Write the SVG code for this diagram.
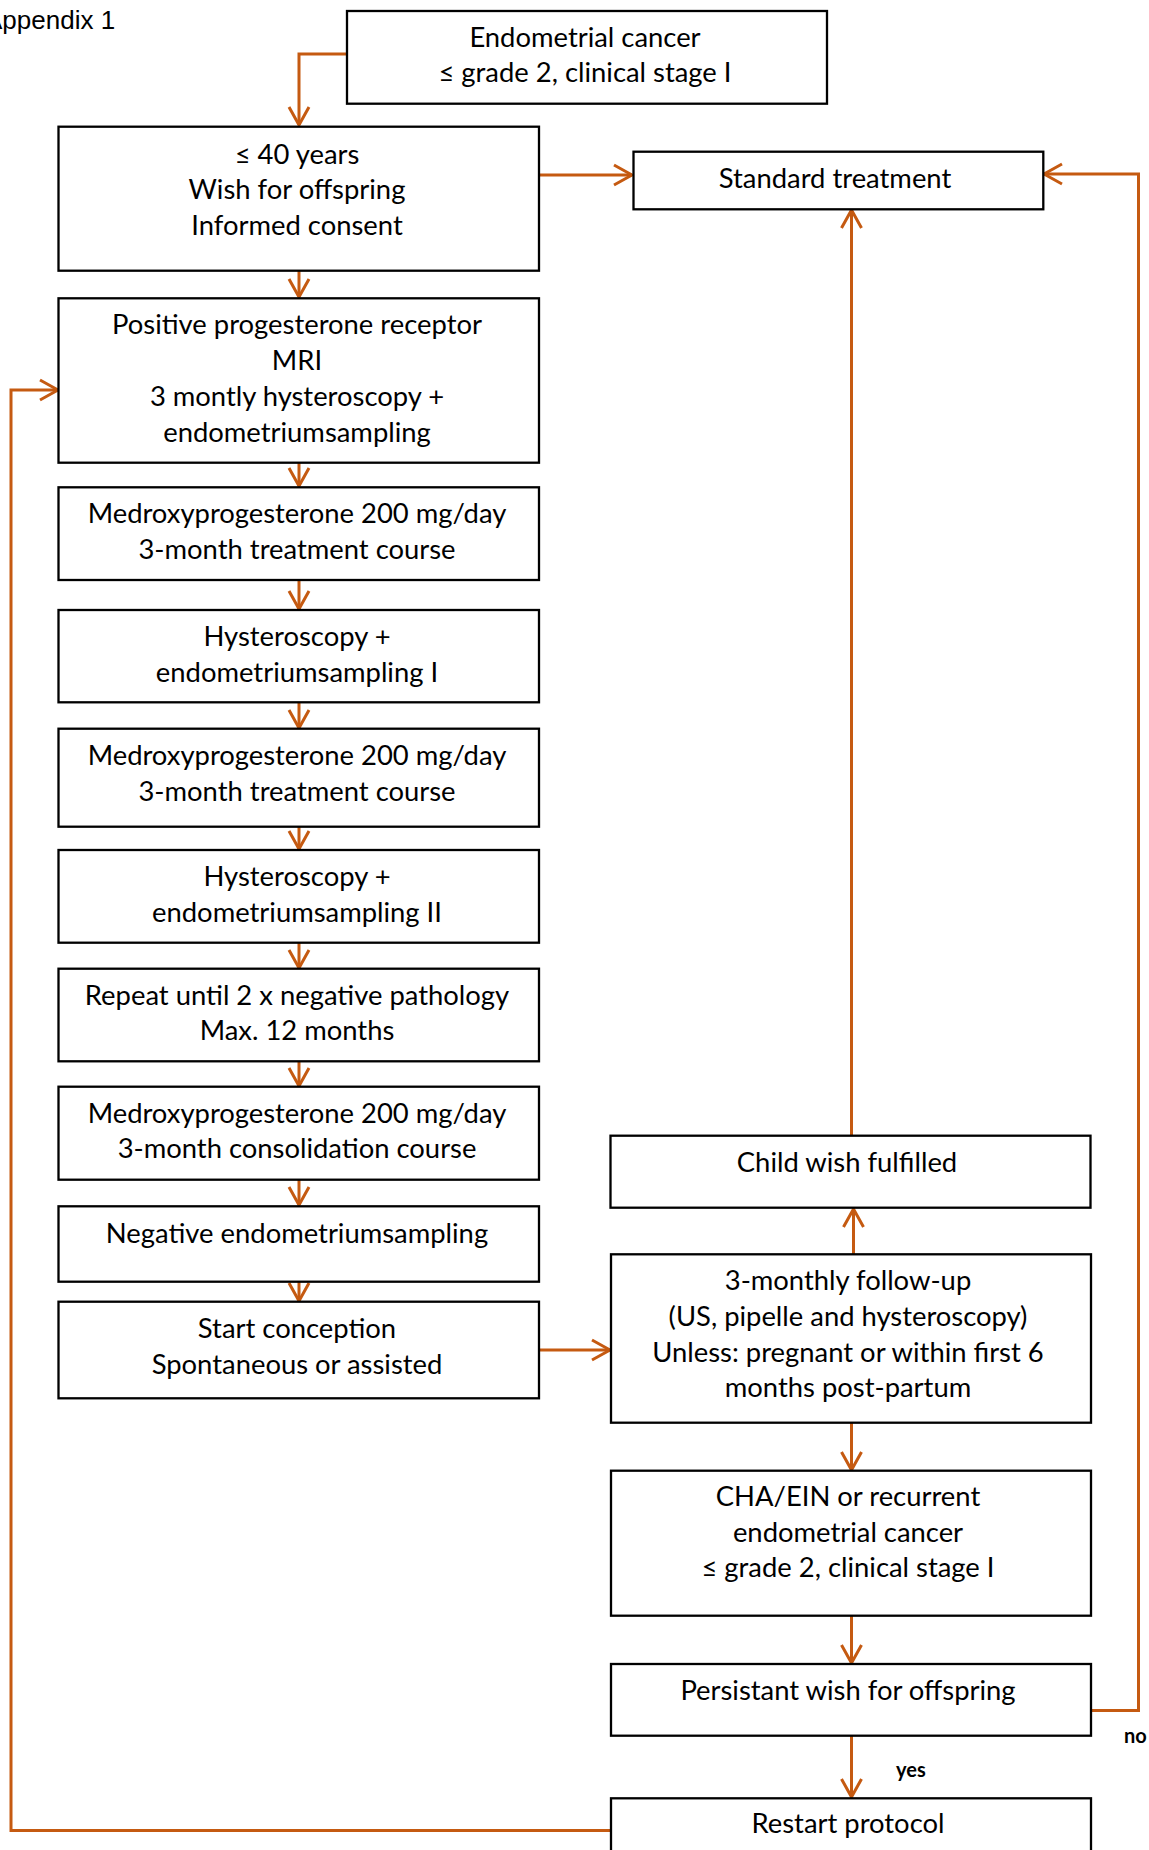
<svg xmlns="http://www.w3.org/2000/svg" width="1149" height="1850" viewBox="0 0 1149 1850">
<style>
.box{fill:#fff;stroke:#000;stroke-width:2.3}
.conn{fill:none;stroke:#C55A11;stroke-width:3}
.t{font-family:Lato,"Liberation Sans",sans-serif;font-size:27.4px;text-anchor:middle;fill:#000}
.lbl{font-family:Lato,"Liberation Sans",sans-serif;font-size:20px;font-weight:bold;fill:#000}
.app{font-family:"Liberation Sans",Arial,sans-serif;font-size:26px;fill:#000}
</style>
<defs>
<marker id="arr" markerUnits="userSpaceOnUse" markerWidth="24" markerHeight="24" viewBox="0 0 24 24" refX="21" refY="12" orient="auto">
<path d="M3,2 L21,12 L3,22" fill="none" stroke="#C55A11" stroke-width="3"/>
</marker>
</defs>
<rect width="1149" height="1850" fill="#fff"/>
<text class="app" x="-15" y="29">Appendix 1</text>

<g id="connectors">
<path class="conn" d="M347,54 H299 V125" marker-end="url(#arr)"/>
<path class="conn" d="M539,175 H632" marker-end="url(#arr)"/>
<path class="conn" d="M299,271 V297" marker-end="url(#arr)"/>
<path class="conn" d="M299,463 V486" marker-end="url(#arr)"/>
<path class="conn" d="M299,580 V609" marker-end="url(#arr)"/>
<path class="conn" d="M299,702 V728" marker-end="url(#arr)"/>
<path class="conn" d="M299,827 V849" marker-end="url(#arr)"/>
<path class="conn" d="M299,943 V968" marker-end="url(#arr)"/>
<path class="conn" d="M299,1061 V1086" marker-end="url(#arr)"/>
<path class="conn" d="M299,1180 V1205" marker-end="url(#arr)"/>
<path class="conn" d="M299,1282 V1301" marker-end="url(#arr)"/>
<path class="conn" d="M539,1350 H610" marker-end="url(#arr)"/>
<path class="conn" d="M853.5,1254 V1209" marker-end="url(#arr)"/>
<path class="conn" d="M851.5,1135 V210" marker-end="url(#arr)"/>
<path class="conn" d="M851.5,1423 V1470" marker-end="url(#arr)"/>
<path class="conn" d="M851.5,1616 V1663" marker-end="url(#arr)"/>
<path class="conn" d="M851.5,1736 V1797" marker-end="url(#arr)"/>
<path class="conn" d="M1091,1710.5 H1138.5 V174 H1044" marker-end="url(#arr)"/>
<path class="conn" d="M610.5,1830.5 H11 V390 H58" marker-end="url(#arr)"/>
</g>
<text class="lbl" x="896" y="1777">yes</text>
<text class="lbl" x="1124" y="1743">no</text>

<g id="n-endometrial">
<rect class="box" x="347" y="11" width="480" height="92.7"/>
<text class="t" x="585" y="47">Endometrial cancer</text>
<text class="t" x="585" y="82">≤ grade 2, clinical stage I</text>
</g>
<g id="n-age">
<rect class="box" x="58.5" y="126.7" width="480.5" height="144"/>
<text class="t" x="297" y="163.5">≤ 40 years</text>
<text class="t" x="297" y="199.3">Wish for offspring</text>
<text class="t" x="297" y="234.5">Informed consent</text>
</g>
<g id="n-standard">
<rect class="box" x="633.5" y="151.7" width="409.8" height="57.6"/>
<text class="t" x="835" y="187.7">Standard treatment</text>
</g>
<g id="n-positive">
<rect class="box" x="58.5" y="298.3" width="480.5" height="164.4"/>
<text class="t" x="297" y="334">Positive progesterone receptor</text>
<text class="t" x="297" y="370">MRI</text>
<text class="t" x="297" y="406">3 montly hysteroscopy +</text>
<text class="t" x="297" y="441.7">endometriumsampling</text>
</g>
<g id="n-medroxy1">
<rect class="box" x="58.5" y="487.3" width="480.5" height="92.7"/>
<text class="t" x="297" y="523.3">Medroxyprogesterone 200 mg/day</text>
<text class="t" x="297" y="559.3">3-month treatment course</text>
</g>
<g id="n-hyst1">
<rect class="box" x="58.5" y="610" width="480.5" height="92.3"/>
<text class="t" x="297" y="646">Hysteroscopy +</text>
<text class="t" x="297" y="682">endometriumsampling I</text>
</g>
<g id="n-medroxy2">
<rect class="box" x="58.5" y="728.7" width="480.5" height="98"/>
<text class="t" x="297" y="765">Medroxyprogesterone 200 mg/day</text>
<text class="t" x="297" y="801">3-month treatment course</text>
</g>
<g id="n-hyst2">
<rect class="box" x="58.5" y="850" width="480.5" height="92.7"/>
<text class="t" x="297" y="886">Hysteroscopy +</text>
<text class="t" x="297" y="921.7">endometriumsampling II</text>
</g>
<g id="n-repeat">
<rect class="box" x="58.5" y="968.7" width="480.5" height="92.6"/>
<text class="t" x="297" y="1005">Repeat until 2 x negative pathology</text>
<text class="t" x="297" y="1040">Max. 12 months</text>
</g>
<g id="n-consolidation">
<rect class="box" x="58.5" y="1086.7" width="480.5" height="93"/>
<text class="t" x="297" y="1123.3">Medroxyprogesterone 200 mg/day</text>
<text class="t" x="297" y="1158.3">3-month consolidation course</text>
</g>
<g id="n-negative">
<rect class="box" x="58.5" y="1206.3" width="480.5" height="75.4"/>
<text class="t" x="297" y="1243.3">Negative endometriumsampling</text>
</g>
<g id="n-conception">
<rect class="box" x="58.5" y="1301.7" width="480.5" height="96.6"/>
<text class="t" x="297" y="1338.3">Start conception</text>
<text class="t" x="297" y="1374">Spontaneous or assisted</text>
</g>
<g id="n-childwish">
<rect class="box" x="610.5" y="1135.7" width="480" height="72"/>
<text class="t" x="847" y="1171.7">Child wish fulfilled</text>
</g>
<g id="n-followup">
<rect class="box" x="611" y="1254.3" width="480" height="168.4"/>
<text class="t" x="848" y="1290">3-monthly follow-up</text>
<text class="t" x="848" y="1326">(US, pipelle and hysteroscopy)</text>
<text class="t" x="848" y="1361.7">Unless: pregnant or within first 6</text>
<text class="t" x="848" y="1396.7">months post-partum</text>
</g>
<g id="n-recurrence">
<rect class="box" x="611" y="1470.7" width="480" height="145"/>
<text class="t" x="848" y="1506">CHA/EIN or recurrent</text>
<text class="t" x="848" y="1541.7">endometrial cancer</text>
<text class="t" x="848" y="1577">≤ grade 2, clinical stage I</text>
</g>
<g id="n-persistant">
<rect class="box" x="611" y="1664" width="480" height="71.7"/>
<text class="t" x="848" y="1700">Persistant wish for offspring</text>
</g>
<g id="n-restart">
<rect class="box" x="611" y="1798.3" width="480" height="70"/>
<text class="t" x="848" y="1833">Restart protocol</text>
</g>
</svg>
